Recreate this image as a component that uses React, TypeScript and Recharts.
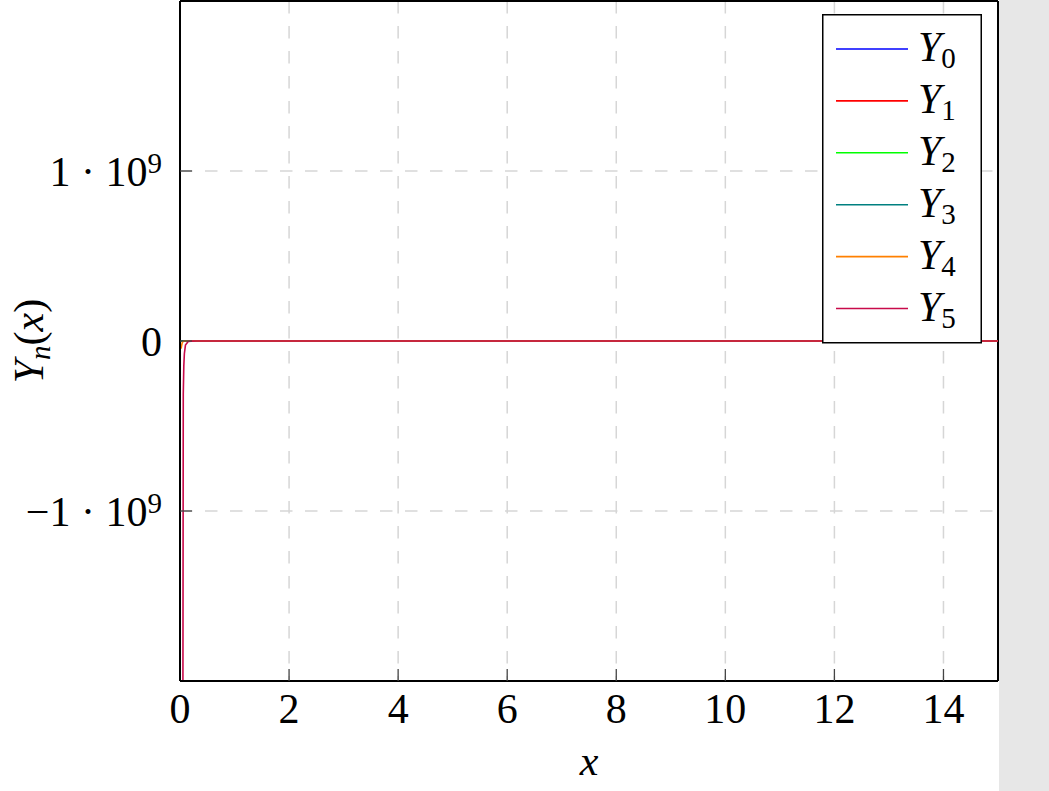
import { LineChart, Line, XAxis, YAxis, CartesianGrid, Legend, ReferenceLine } from 'recharts';

const FONT = '"Liberation Serif", "DejaVu Serif", serif';

// sample positions along x
const xs = [0.02, 0.03, 0.04, 0.05, 0.06, 0.07, 0.08, 0.1, 0.15, 0.2, 0.3, 0.5, 1, 1.5, 2, 3, 4, 5, 6, 7, 8, 9, 10, 11, 12, 13, 14, 15];

const y0 = [-2.56, -2.3, -2.12, -1.98, -1.86, -1.76, -1.68, -1.53, -1.27, -1.08, -0.81, -0.44, 0.088, 0.38, 0.51, 0.38, -0.017, -0.31, -0.29, -0.026, 0.22, 0.25, 0.056, -0.17, -0.23, -0.079, 0.13, 0.21];
const y1 = [-31.8, -21.2, -15.9, -12.8, -10.6, -9.1, -8.0, -6.46, -4.34, -3.32, -2.29, -1.47, -0.78, -0.41, -0.11, 0.32, 0.4, 0.15, -0.18, -0.3, -0.16, 0.1, 0.25, 0.16, -0.057, -0.21, -0.17, 0.021];
const y2 = [-3183, -1415, -796, -509, -354, -260, -199, -127.6, -56.9, -32.2, -14.6, -5.44, -1.65, -0.93, -0.62, -0.16, 0.22, 0.37, 0.23, -0.086, -0.26, -0.23, -0.006, 0.2, 0.21, 0.048, -0.15, -0.21];
const y3 = [-6.37e5, -1.89e5, -7.96e4, -4.07e4, -2.36e4, -1.49e4, -9950, -5100, -1510, -640, -190, -42.1, -5.82, -2.07, -1.13, -0.54, -0.18, 0.15, 0.33, 0.27, 0.027, -0.21, -0.25, -0.056, 0.18, 0.22, 0.067, -0.16];
const y4 = [-4.5e7, -2.5e7, -1.2e7, -5e6, -2.4e6, -1.3e6, -7.5e5, -3e5, -6e4, -1.9e4, -3800, -500, -33, -6.1, -2.2, -1.0, -0.49, -0.26, -0.12, 0.2, 0.35, 0.19, -0.11, -0.26, -0.18, 0.07, 0.23, 0.15];
const y5 = [null, null, null, -3e9, -3.1e8, -1.45e8, -7.5e7, -2.4e7, -3.2e6, -7.6e5, -1e5, -7800, -260, -36, -9.9, -1.9, -0.8, -0.45, -0.44, -0.2, 0.13, 0.3, 0.2, -0.07, -0.2, -0.15, 0.05, 0.2];

const seriesNames = ['Y0', 'Y1', 'Y2', 'Y3', 'Y4', 'Y5'];
const seriesValues = [y0, y1, y2, y3, y4, y5];
const seriesColors = ['#0000ff', '#ff0000', '#00ff00', '#008080', '#ff8000', '#c80a4a'];

const xTicks = [0, 2, 4, 6, 8, 10, 12, 14];
const yTicks = [-1e9, 0, 1e9];

const data = xs.map((x, i) => {
  const row: Record<string, number | null> = { x };
  seriesNames.forEach((n, k) => {
    row[n] = seriesValues[k][i];
  });
  return row;
});

const XTick = ({ x, y, payload }: any) => (
  <text x={x} y={y} textAnchor="middle" fontFamily={FONT} fontSize={42} fill="#000">
    {payload.value}
  </text>
);

const YTick = ({ x, y, payload }: any) => {
  const v = payload.value;
  if (v === 0) {
    return (
      <text x={x} y={y + 15} textAnchor="end" fontFamily={FONT} fontSize={42} fill="#000">0</text>
    );
  }
  return (
    <text x={x} y={y + 15} textAnchor="end" fontFamily={FONT} fontSize={42} fill="#000">
      {v < 0 ? '\u22121 \u00b7 10' : '1 \u00b7 10'}
      <tspan dy={-13} fontSize={29}>9</tspan>
    </text>
  );
};

const Empty = () => <g />;

const YLabel = ({ viewBox }: any) => {
  const cy = viewBox.y + viewBox.height / 2;
  const lx = 43;
  return (
    <text x={lx} y={cy} transform={`rotate(-90, ${lx}, ${cy})`} textAnchor="middle" fontFamily={FONT} fontSize={42} fill="#000">
      <tspan fontStyle="italic">Y</tspan>
      <tspan fontStyle="italic" fontSize={29} dy={7}>n</tspan>
      <tspan dy={-7}>(</tspan>
      <tspan fontStyle="italic">x</tspan>
      <tspan>)</tspan>
    </text>
  );
};

const XLabel = ({ viewBox }: any) => (
  <text x={viewBox.x + viewBox.width / 2} y={775} textAnchor="middle" fontFamily={FONT} fontSize={42} fontStyle="italic" fill="#000">
    x
  </text>
);

const LegendBox = () => (
  <svg width={160} height={330} style={{ display: 'block' }}>
    <rect x={0.75} y={0.75} width={158.5} height={328} fill="#fff" stroke="#000" strokeWidth={1.5} />
    {seriesNames.map((n, i) => {
      const cy = 35 + 51.9 * i;
      return (
        <g key={n}>
          <line x1={14} x2={86} y1={cy} y2={cy} stroke={seriesColors[i]} strokeWidth={1.6} />
          <text x={96} y={cy + 12} fontFamily={FONT} fontSize={42} fill="#000">
            <tspan fontStyle="italic">Y</tspan>
            <tspan fontSize={29} dy={7}>{n.slice(1)}</tspan>
          </text>
        </g>
      );
    })}
  </svg>
);

const tickLineStyle = { stroke: '#444', strokeWidth: 1.3 };
const axisLineStyle = { stroke: '#000', strokeWidth: 2 };

export default function App() {
  return (
    <div style={{ position: 'absolute', left: 0, top: 0, width: 1049, height: 791, background: '#fff' }}>
      <div style={{ position: 'absolute', left: 999, top: 0, width: 50, height: 791, background: '#e7e7e7' }} />
      <LineChart width={999} height={791} data={data} margin={{ top: 1, right: 1, bottom: 0, left: 0 }}>
        <CartesianGrid strokeDasharray="12.5 12.5" stroke="#d6d6d6" strokeWidth={1.5} />
        <XAxis
          dataKey="x"
          type="number"
          domain={[0, 15]}
          ticks={xTicks}
          interval={0}
          allowDataOverflow
          height={110}
          tickSize={-12}
          tickMargin={54}
          tick={<XTick />}
          tickLine={tickLineStyle}
          axisLine={axisLineStyle}
          label={<XLabel />}
        />
        <XAxis
          xAxisId="t"
          dataKey="x"
          orientation="top"
          type="number"
          domain={[0, 15]}
          ticks={xTicks}
          interval={0}
          allowDataOverflow
          height={0}
          tickSize={-12}
          tick={<Empty />}
          tickLine={tickLineStyle}
          axisLine={axisLineStyle}
        />
        <YAxis
          type="number"
          domain={[-2e9, 2e9]}
          ticks={yTicks}
          interval={0}
          allowDataOverflow
          width={180}
          tickSize={-12}
          tickMargin={30}
          tick={<YTick />}
          tickLine={tickLineStyle}
          axisLine={axisLineStyle}
          label={<YLabel />}
        />
        <YAxis
          yAxisId="r"
          orientation="right"
          type="number"
          domain={[-2e9, 2e9]}
          ticks={yTicks}
          interval={0}
          allowDataOverflow
          width={0}
          tickSize={-12}
          tick={<Empty />}
          tickLine={tickLineStyle}
          axisLine={axisLineStyle}
        />
        <ReferenceLine y={2e9} stroke="#000" strokeWidth={2} />
        <ReferenceLine x={15} stroke="#000" strokeWidth={2} />
        <Legend
          layout="vertical"
          align="center"
          verticalAlign="middle"
          content={<LegendBox />}
          wrapperStyle={{ left: 822, top: 14, width: 160, height: 330 }}
        />
        {seriesNames.map((n, i) => (
          <Line
            key={n}
            dataKey={n}
            name={n}
            stroke={seriesColors[i]}
            strokeWidth={1.6}
            dot={false}
            type="linear"
            isAnimationActive={false}
          />
        ))}
      </LineChart>
    </div>
  );
}
